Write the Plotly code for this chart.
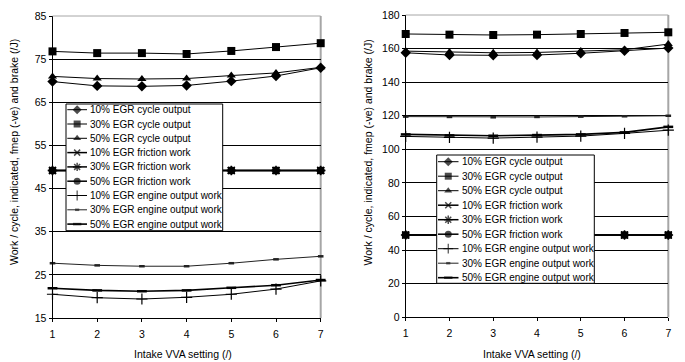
import plotly.graph_objects as go

W, H = 685, 362
OX, OY = 8, 8   # page offset of the figure inside the browser window
FONT = "Liberation Sans, Arial, sans-serif"

# ---------------- data ----------------
vva = [1, 2, 3, 4, 5, 6, 7]

series_names = [
    "10% EGR cycle output", "30% EGR cycle output", "50% EGR cycle output",
    "10% EGR friction work", "30% EGR friction work", "50% EGR friction work",
    "10% EGR engine output work", "30% EGR engine output work", "50% EGR engine output work",
]

# left chart
a_cyc10 = [69.8, 68.8, 68.7, 68.9, 69.9, 71.1, 73.0]
a_cyc30 = [76.8, 76.4, 76.4, 76.2, 76.9, 77.8, 78.7]
a_cyc50 = [71.0, 70.5, 70.4, 70.5, 71.2, 71.8, 73.1]
a_fric10 = [49.2, 49.2, 49.2, 49.2, 49.2, 49.2, 49.2]
a_fric30 = [49.2, 49.2, 49.2, 49.2, 49.2, 49.2, 49.2]
a_fric50 = [49.2, 49.2, 49.2, 49.2, 49.2, 49.2, 49.2]
a_eng10 = [20.5, 19.7, 19.4, 19.8, 20.5, 21.7, 23.6]
a_eng30 = [27.7, 27.2, 27.0, 27.0, 27.7, 28.6, 29.3]
a_eng50 = [21.9, 21.4, 21.2, 21.4, 22.0, 22.6, 23.8]

# right chart
b_cyc10 = [157.5, 156.2, 156.0, 156.2, 157.2, 158.7, 160.3]
b_cyc30 = [168.7, 168.3, 168.1, 168.3, 168.7, 169.3, 169.7]
b_cyc50 = [158.5, 158.0, 157.5, 157.7, 158.5, 159.3, 162.7]
b_fric10 = [49.0, 49.0, 49.0, 49.0, 49.0, 49.0, 49.0]
b_fric30 = [49.0, 49.0, 49.0, 49.0, 49.0, 49.0, 49.0]
b_fric50 = [49.0, 49.0, 49.0, 49.0, 49.0, 49.0, 49.0]
b_eng10 = [107.7, 107.1, 106.7, 107.3, 107.9, 109.5, 111.4]
b_eng30 = [119.5, 119.3, 119.1, 119.3, 119.5, 119.7, 120.0]
b_eng50 = [108.9, 108.3, 108.1, 108.5, 108.9, 110.1, 113.4]

left_vals = [a_cyc10, a_cyc30, a_cyc50, a_fric10, a_fric30, a_fric50, a_eng10, a_eng30, a_eng50]
right_vals = [b_cyc10, b_cyc30, b_cyc50, b_fric10, b_fric30, b_fric50, b_eng10, b_eng30, b_eng50]

left_yticks = [15, 25, 35, 45, 55, 65, 75, 85]
right_yticks = [0, 20, 40, 60, 80, 100, 120, 140, 160, 180]
x_title = "Intake VVA setting (/)"
y_title = "Work / cycle, indicated, fmep (-ve) and brake (/J)"

# ---------------- styles ----------------
styles = [
    dict(symbol="diamond", size=8, lw=1.0, lc="black", mc="black", mlw=0),
    dict(symbol="square", size=8, lw=1.0, lc="black", mc="black", mlw=0),
    dict(symbol="triangle-up", size=8, lw=1.0, lc="black", mc="black", mlw=0),
    dict(symbol="x-thin-open", size=7, lw=1.5, lc="black", mc="black", mlw=1.5),
    dict(symbol="asterisk-open", size=8, lw=1.5, lc="black", mc="black", mlw=1.5),
    dict(symbol="circle", size=8, lw=1.5, lc="black", mc="black", mlw=0),
    dict(symbol="cross-thin-open", size=8, lw=1.0, lc="black", mc="black", mlw=1.2),
    dict(symbol="line-ew-open", size=4, lw=1.0, lc="#222222", mc="#222222", mlw=2.5),
    dict(symbol="line-ew-open", size=7, lw=1.6, lc="black", mc="black", mlw=2.5),
]

fig = go.Figure()

def add_chart(vals, xa, ya):
    for name, v, s in zip(series_names, vals, styles):
        fig.add_trace(go.Scatter(
            x=vva, y=v, name=name, mode="lines+markers", xaxis=xa, yaxis=ya,
            showlegend=False, cliponaxis=False,
            line=dict(color=s["lc"], width=s["lw"]),
            marker=dict(symbol=s["symbol"], size=s["size"], color=s["mc"],
                        line=dict(color=s["mc"], width=s["mlw"])),
        ))

add_chart(left_vals, "x", "y")
add_chart(right_vals, "x2", "y2")

# ---------------- custom legends (pixel-space overlay axes) ----------------
def add_legend(box, row0, step, lx0, lx1, tx):
    x0, x1, y0, y1 = box
    fig.add_trace(go.Scatter(
        x=[x0, x1, x1, x0, x0], y=[y0, y0, y1, y1, y0], mode="lines",
        fill="toself", fillcolor="white", line=dict(color="black", width=1),
        xaxis="x3", yaxis="y3", showlegend=False, hoverinfo="skip"))
    for i, (name, s) in enumerate(zip(series_names, styles)):
        yy = row0 + i * step
        fig.add_trace(go.Scatter(
            x=[lx0, (lx0 + lx1) / 2, lx1], y=[yy, yy, yy], mode="lines+markers",
            xaxis="x3", yaxis="y3", showlegend=False, hoverinfo="skip",
            line=dict(color=s["lc"], width=s["lw"]),
            marker=dict(symbol=s["symbol"], size=[0, s["size"] - 1, 0], color=s["mc"],
                        line=dict(color=s["mc"], width=s["mlw"])),
        ))
        fig.add_annotation(x=tx, y=yy, xref="x3", yref="y3", text=name,
                           showarrow=False, xanchor="left", yanchor="middle",
                           font=dict(family=FONT, size=10, color="black"))

add_legend((66, 222.7, 104, 230.7), 109.7, 14.3, 67.3, 87.0, 88.0)
add_legend((436.7, 594.3, 155, 283.3), 161.7, 14.5, 438.0, 458.5, 459.5)

# ---------------- axes ----------------
def px(p): return (p - OX) / W
def py(p): return 1 - (p - OY) / H

common_x = dict(range=[1, 7], tickvals=vva, ticks="outside", ticklen=3, tickcolor="black",
                showline=True, linecolor="black", linewidth=1, showgrid=False,
                zeroline=False, tickfont=dict(family=FONT, size=10.5, color="black"),
                fixedrange=True, automargin=False, ticklabelstandoff=3)
common_y = dict(ticks="outside", ticklen=3, tickcolor="black", showline=True,
                linecolor="black", linewidth=1, showgrid=True, gridcolor="black",
                gridwidth=1, zeroline=False, automargin=False,
                tickfont=dict(family=FONT, size=10.5, color="black"), fixedrange=True)

fig.update_layout(
    width=W, height=H, autosize=False,
    margin=dict(l=0, r=0, t=0, b=0, pad=0, autoexpand=False),
    paper_bgcolor="white", plot_bgcolor="rgba(0,0,0,0)", showlegend=False,
    font=dict(family=FONT, size=10.5, color="black"),
    xaxis=dict(domain=[px(52.5), px(320.7)], anchor="y", **common_x),
    yaxis=dict(domain=[py(318), py(16)], anchor="x", range=[15, 85], tickvals=left_yticks, **common_y),
    xaxis2=dict(domain=[px(405.7), px(668.3)], anchor="y2", **common_x),
    yaxis2=dict(domain=[py(317.3), py(15)], anchor="x2", range=[0, 180], tickvals=right_yticks, **common_y),
    xaxis3=dict(domain=[0, 1], range=[OX, W + OX], visible=False, fixedrange=True, anchor="y3", automargin=False),
    yaxis3=dict(domain=[0, 1], range=[H + OY, OY], visible=False, fixedrange=True, anchor="x3", automargin=False),
)

# gray plot-area border (top and right)
for xr, yr in (("x domain", "y domain"), ("x2 domain", "y2 domain")):
    fig.add_shape(type="line", xref=xr, yref=yr, x0=0, x1=1, y0=1, y1=1,
                  line=dict(color="#a6a6a6", width=1), layer="above")
    fig.add_shape(type="line", xref=xr, yref=yr, x0=1, x1=1, y0=0, y1=1,
                  line=dict(color="#a6a6a6", width=2), layer="below")

# axis titles
for cx, cy in ((182.5, 354), (531.7, 354)):
    fig.add_annotation(x=px(cx), y=py(cy), xref="paper", yref="paper", text=x_title,
                       showarrow=False, xanchor="center", yanchor="middle",
                       font=dict(family=FONT, size=10.5, color="black"))
for cx, cy in ((14, 152), (367.5, 152)):
    fig.add_annotation(x=px(cx), y=py(cy), xref="paper", yref="paper", text=y_title,
                       textangle=-90, showarrow=False, xanchor="center", yanchor="middle",
                       font=dict(family=FONT, size=10.5, color="black"))

fig.write_html("out.html", config={"displayModeBar": False})
